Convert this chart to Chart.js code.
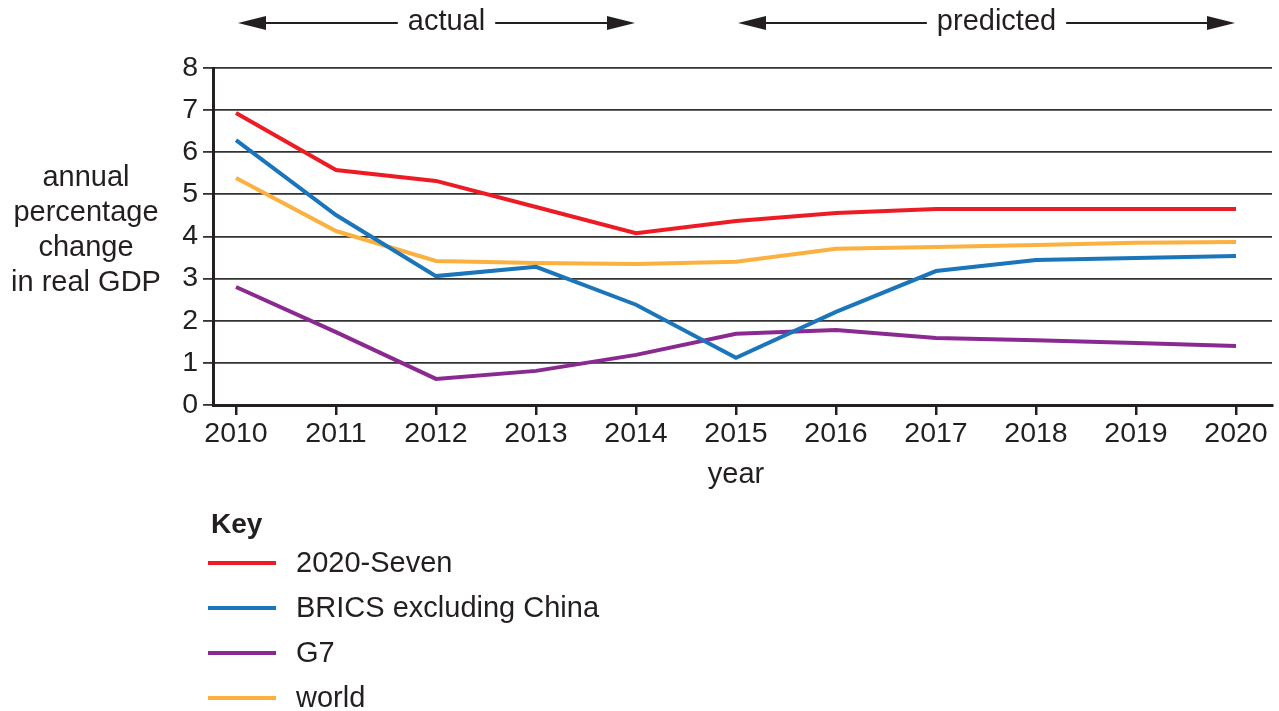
<!DOCTYPE html>
<html>
<head>
<meta charset="utf-8">
<script src="https://cdn.jsdelivr.net/npm/chart.js@4.4.1/dist/chart.umd.min.js"></script>
<style>
  html, body { margin: 0; padding: 0; background: #fff; }
  #wrap { width: 1279px; height: 711px; position: relative; }
</style>
</head>
<body>
<div id="wrap"><canvas id="c" width="1279" height="711"></canvas></div>
<script>
const years = [2010, 2011, 2012, 2013, 2014, 2015, 2016, 2017, 2018, 2019, 2020];
const seriesNames = ["2020-Seven", "BRICS excluding China", "G7", "world"];
const seven = [6.93, 5.58, 5.32, 4.70, 4.08, 4.37, 4.56, 4.65, 4.65, 4.65, 4.65];
const brics = [6.29, 4.51, 3.06, 3.28, 2.38, 1.12, 2.21, 3.18, 3.44, 3.49, 3.54];
const g7    = [2.80, 1.73, 0.62, 0.81, 1.19, 1.69, 1.78, 1.59, 1.54, 1.47, 1.40];
const world = [5.39, 4.13, 3.42, 3.37, 3.35, 3.40, 3.71, 3.75, 3.80, 3.85, 3.87];
const yTicks = [0, 1, 2, 3, 4, 5, 6, 7, 8];
const yTitleLines = ["annual", "percentage", "change", "in real GDP"];
const xTitle = "year";
const keyTitle = "Key";
const periods = [
  { label: "actual", from: 2010, to: 2014 },
  { label: "predicted", from: 2015, to: 2020 }
];
const colors = ["#ed1c24", "#1a75bb", "#8a2a91", "#fbb040"];

const FONT = "'Liberation Sans', Arial, Helvetica, sans-serif";
const INK = '#231f20';

const mk = (arr) => arr.map((v, i) => ({ x: years[i], y: v }));
const seriesData = [seven, brics, g7, world];

function arrowHead(ctx, tipX, y, dir) {
  ctx.beginPath();
  ctx.moveTo(tipX, y);
  ctx.lineTo(tipX - dir * 28, y - 7);
  ctx.lineTo(tipX - dir * 28, y + 7);
  ctx.closePath();
  ctx.fill();
}

const extras = {
  id: 'extras',
  afterDraw(chart) {
    const ctx = chart.ctx;
    const xs = chart.scales.x;
    ctx.save();
    ctx.fillStyle = INK;
    ctx.strokeStyle = INK;
    ctx.font = '29px ' + FONT;
    ctx.textBaseline = 'middle';
    // period arrows
    const ay = 23;
    periods.forEach(p => {
      const x0 = xs.getPixelForValue(p.from) + 2;
      const x1 = xs.getPixelForValue(p.to) - 1;
      const cx = (x0 + x1) / 2 + 10;
      const tw = ctx.measureText(p.label).width;
      ctx.textAlign = 'center';
      ctx.fillText(p.label, cx, ay - 1);
      ctx.lineWidth = 2.2;
      ctx.beginPath();
      ctx.moveTo(x0 + 20, ay); ctx.lineTo(cx - tw / 2 - 10, ay);
      ctx.moveTo(cx + tw / 2 + 10, ay); ctx.lineTo(x1 - 20, ay);
      ctx.stroke();
      arrowHead(ctx, x0, ay, -1);
      arrowHead(ctx, x1, ay, 1);
    });
    // y-axis title
    ctx.textAlign = 'center';
    yTitleLines.forEach((t, i) => ctx.fillText(t, 86, 178 + i * 35));
    // x-axis title
    ctx.fillText(xTitle, 736, 475);
    // key
    ctx.textAlign = 'left';
    ctx.font = 'bold 28px ' + FONT;
    ctx.fillText(keyTitle, 211, 525);
    ctx.font = '29px ' + FONT;
    chart.data.datasets.forEach((ds, i) => {
      const y = 563 + i * 45;
      ctx.strokeStyle = ds.borderColor;
      ctx.lineWidth = 4;
      ctx.beginPath();
      ctx.moveTo(208, y); ctx.lineTo(276, y);
      ctx.stroke();
      ctx.fillStyle = INK;
      ctx.fillText(ds.label, 296, y + 1);
    });
    ctx.restore();
  }
};

new Chart(document.getElementById('c'), {
  type: 'line',
  data: {
    datasets: seriesData.map((d, i) => ({
      label: seriesNames[i],
      data: mk(d),
      borderColor: colors[i],
      backgroundColor: colors[i],
      borderWidth: 4,
      pointRadius: 0,
      tension: 0,
      fill: false
    }))
  },
  options: {
    responsive: false,
    animation: false,
    devicePixelRatio: 1,
    layout: { padding: { left: 0, top: 68, right: 7, bottom: 246 } },
    plugins: { legend: { display: false }, tooltip: { enabled: false } },
    scales: {
      x: {
        type: 'linear',
        min: 2009.77,
        max: 2020.36,
        afterFit: s => { s.height = 60; },
        afterBuildTicks: s => { s.ticks = years.map(v => ({ value: v })); },
        grid: { display: true, drawOnChartArea: false, drawTicks: true, tickLength: 10, color: INK, lineWidth: 2.5 },
        border: { display: true, color: INK, width: 3 },
        ticks: { color: INK, font: { size: 28.5, family: FONT }, padding: 2, maxRotation: 0, autoSkip: false, callback: v => String(v) }
      },
      y: {
        min: 0,
        max: 8,
        afterFit: s => { s.width = 213; },
        afterBuildTicks: s => { s.ticks = yTicks.map(v => ({ value: v })); },
        grid: { color: '#333333', lineWidth: 1.8, drawTicks: true, tickLength: 10 },
        border: { display: true, color: INK, width: 3 },
        ticks: { color: INK, font: { size: 28.5, family: FONT }, padding: 5 }
      }
    }
  },
  plugins: [extras]
});
</script>
</body>
</html>
